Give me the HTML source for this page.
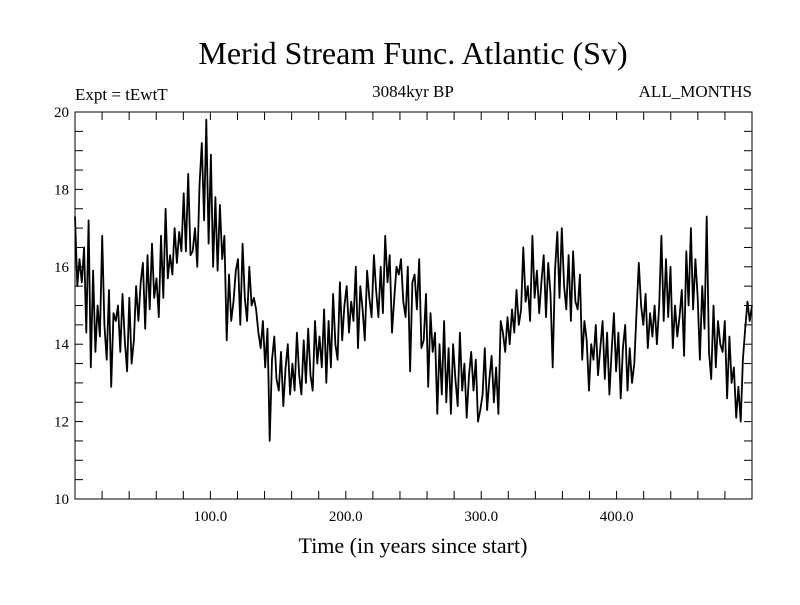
<!DOCTYPE html>
<html><head><meta charset="utf-8"><style>
body{margin:0;background:#fff}
svg text{font-family:"Liberation Serif",serif;fill:#000}
</style></head><body>
<svg id="chart" width="800" height="600">
<text x="413" y="64" font-size="32" text-anchor="middle">Merid Stream Func. Atlantic (Sv)</text>
<text x="75" y="100" font-size="17">Expt = tEwtT</text>
<text x="413" y="97" font-size="17" text-anchor="middle">3084kyr BP</text>
<text x="752" y="97" font-size="17" text-anchor="end">ALL_MONTHS</text>
<text x="413" y="553" font-size="22" text-anchor="middle">Time (in years since start)</text>
<rect x="75" y="112" width="677" height="387" fill="none" stroke="#000" stroke-width="1"/>
<g id="axes"></g>
<path id="series" fill="none" stroke="#000" stroke-width="1.8" stroke-linejoin="round"/>
</svg>
<script>
const yTicks=[10,12,14,16,18,20];
const xTicks=[100,200,300,400];
const xTickLabels=["100.0","200.0","300.0","400.0"];
const values=[
17.3,15.5,16.2,15.6,16.5,14.3, 17.2,13.4,15.9,13.8,15.0,14.2,
16.8,14.5,13.6,15.4,12.9,14.8, 14.6,15.0,13.8,15.3,14.1,13.3,
15.2,13.5,14.1,15.5,14.6,15.6, 16.1,14.4,16.3,14.9,16.6,15.2,
15.7,14.7,16.8,15.2,17.5,15.7, 16.3,15.8,17.0,16.1,16.9,16.4,
17.9,16.4,18.4,16.3,16.4,17.0, 16.0,18.1,19.2,17.2,19.8,16.6,
18.9,16.0,17.8,15.9,17.6,16.2, 16.8,14.1,15.8,14.6,15.1,15.9,
16.2,14.5,16.6,15.2,14.6,16.0, 15.0,15.2,14.9,14.3,13.9,14.6,
13.4,14.4,11.5,13.6,14.2,13.1, 12.8,13.8,12.4,13.4,14.0,12.7,
13.5,12.8,14.3,13.2,12.7,14.1, 13.0,14.4,13.2,12.8,14.6,13.5,
14.2,13.4,14.9,13.0,14.6,13.4, 15.3,14.0,13.6,15.6,14.1,15.0,
15.5,14.3,15.1,14.6,16.0,13.9, 15.5,14.9,14.1,15.9,15.2,14.7,
16.3,15.4,14.7,16.0,14.8,16.8, 15.6,16.3,14.3,15.2,16.0,15.8,
16.2,15.1,14.7,16.0,13.3,15.6, 15.8,14.9,16.2,13.9,14.1,15.3,
12.9,14.8,13.8,14.3,12.2,14.0, 12.7,14.6,12.5,13.9,12.2,14.0,
13.1,12.4,14.3,12.8,13.5,12.1, 13.2,13.8,12.8,13.6,12.0,12.3,
12.7,13.9,12.3,13.1,13.7,12.5, 13.4,12.2,14.6,14.3,13.8,14.7,
14.0,14.9,14.3,15.4,14.5,14.9, 16.5,15.1,15.5,14.6,16.8,15.2,
15.9,14.8,15.6,16.3,14.7,16.1, 15.3,13.4,15.9,16.9,15.2,17.0,
15.5,14.9,16.3,14.6,16.4,15.1, 14.9,15.8,13.6,14.6,14.1,12.8,
14.0,13.6,14.5,13.2,13.9,14.6, 13.1,14.3,12.7,13.8,14.8,13.3,
14.3,12.6,13.9,14.5,12.8,13.9, 13.0,13.5,14.8,16.1,15.0,14.5,
15.3,13.9,14.8,14.2,15.0,14.0, 15.0,16.8,14.6,16.2,14.7,16.0,
13.9,15.0,14.2,14.7,15.4,13.7, 16.4,15.0,17.0,14.9,16.2,15.2,
13.6,15.5,14.4,17.3,13.8,13.1, 15.0,13.4,14.6,14.0,13.8,14.6,
12.6,14.2,13.0,13.4,12.1,12.9, 12.0,13.6,14.4,15.1,14.6,15.0
];
const X0=75,X1=752,Y0=499,Y1=112;
const xs=t=>X0+(t/500)*(X1-X0);
const ys=v=>Y0-(v-10)/10*(Y0-Y1);
const NS="http://www.w3.org/2000/svg";
const ax=document.getElementById('axes');
function ln(x1,y1,x2,y2,name){const l=document.createElementNS(NS,'line');
l.setAttribute('x1',x1);l.setAttribute('y1',y1);l.setAttribute('x2',x2);l.setAttribute('y2',y2);l.setAttribute('stroke','#000');


ax.appendChild(l);}
function tx(x,y,s,anchor,name){const t=document.createElementNS(NS,'text');
t.setAttribute('x',x);t.setAttribute('y',y);t.setAttribute('font-size','15');t.setAttribute('text-anchor',anchor);t.textContent=s;


ax.appendChild(t);}
for(let v=10;v<=20;v+=0.5){const y=ys(v);ln(X0,y,X0+8,y,'y-tick');ln(X1,y,X1-8,y,'y-tick-right');}
yTicks.forEach(v=>tx(X0-6,ys(v)+5,String(v),'end','y-tick-label'));
for(let t=20;t<500;t+=20){const x=xs(t);ln(x,Y0,x,Y0-8,'x-tick');ln(x,Y1,x,Y1+8,'x-tick-top');}
xTicks.forEach((t,i)=>tx(xs(t),Y0+22,xTickLabels[i],'middle','x-tick-label'));
const n=values.length;
document.getElementById('series').setAttribute('d',values.map((v,i)=>(i?'L':'M')+xs(i*500/(n-1)).toFixed(1)+','+ys(v).toFixed(1)).join(''));
</script>
</body></html>
